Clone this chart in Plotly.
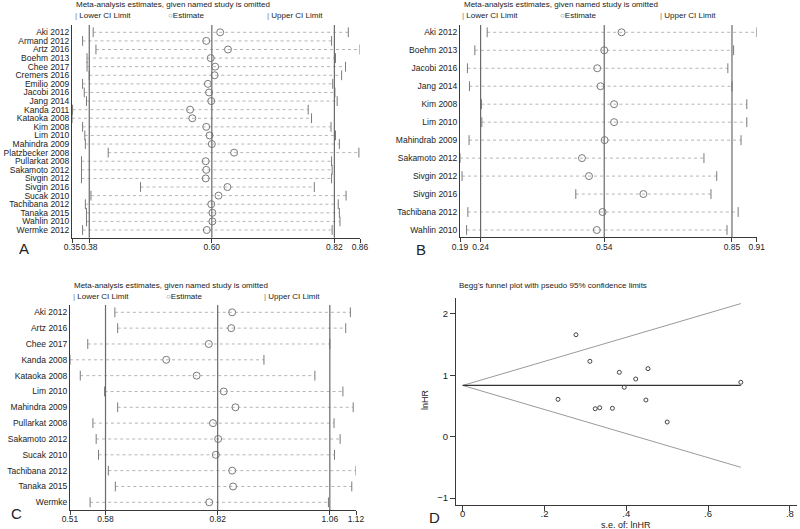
import plotly.graph_objects as go

W, H = 800, 529
FONT = "Liberation Sans, Arial, sans-serif"

# ---- panel A: sensitivity analysis (studies omitted one by one)
a_studies = ["Aki 2012", "Armand 2012", "Artz 2016", "Boehm 2013", "Chee 2017", "Cremers 2016",
             "Emilio 2009", "Jacobi 2016", "Jang 2014", "Kanda 2011", "Kataoka 2008", "Kim 2008",
             "Lim 2010", "Mahindra 2009", "Platzbecker 2008", "Pullarkat 2008", "Sakamoto 2012",
             "Sivgin 2012", "Sivgin 2016", "Sucak 2010", "Tachibana 2012", "Tanaka 2015",
             "Wahlin 2010", "Wermke 2012"]
a_est = [0.615, 0.590, 0.629, 0.598, 0.606, 0.605, 0.593, 0.595, 0.599, 0.561, 0.565, 0.590,
         0.596, 0.600, 0.640, 0.589, 0.590, 0.589, 0.628, 0.612, 0.599, 0.601, 0.601, 0.591]
a_lower = [0.387, 0.368, 0.392, 0.376, 0.376, 0.380, 0.368, 0.371, 0.375, 0.350, 0.349, 0.368,
           0.372, 0.373, 0.414, 0.366, 0.366, 0.366, 0.472, 0.383, 0.373, 0.375, 0.375, 0.368]
a_upper = [0.845, 0.815, 0.866, 0.822, 0.840, 0.833, 0.817, 0.821, 0.825, 0.773, 0.779, 0.814,
           0.822, 0.829, 0.864, 0.815, 0.816, 0.815, 0.784, 0.841, 0.827, 0.829, 0.830, 0.816]
a_overall = [0.38, 0.60, 0.82]
a_ticktext = ["0.35", "0.38", "0.60", "0.82", "0.86"]

# ---- panel B
b_studies = ["Aki 2012", "Boehm 2013", "Jacobi 2016", "Jang 2014", "Kim 2008", "Lim 2010",
             "Mahindrab 2009", "Sakamoto 2012", "Sivgin 2012", "Sivgin 2016", "Tachibana 2012",
             "Wahlin 2010"]
b_est = [0.582, 0.540, 0.523, 0.531, 0.564, 0.564, 0.541, 0.486, 0.503, 0.635, 0.536, 0.522]
b_lower = [0.256, 0.226, 0.208, 0.213, 0.242, 0.243, 0.212, 0.190, 0.195, 0.471, 0.209, 0.206]
b_upper = [0.910, 0.854, 0.840, 0.850, 0.886, 0.886, 0.872, 0.782, 0.813, 0.799, 0.865, 0.838]
b_overall = [0.24, 0.54, 0.85]
b_ticktext = ["0.19", "0.24", "0.54", "0.85", "0.91"]

# ---- panel C
c_studies = ["Aki 2012", "Artz 2016", "Chee 2017", "Kanda 2008", "Kataoka 2008", "Lim 2010",
             "Mahindra 2009", "Pullarkat 2008", "Sakamoto 2012", "Sucak 2010", "Tachibana 2012",
             "Tanaka 2015", "Wermke"]
c_est = [0.851, 0.849, 0.801, 0.710, 0.775, 0.833, 0.858, 0.810, 0.821, 0.816, 0.851, 0.853, 0.802]
c_lower = [0.600, 0.606, 0.542, 0.504, 0.526, 0.578, 0.606, 0.553, 0.560, 0.565, 0.586, 0.601, 0.547]
c_upper = [1.104, 1.094, 1.060, 0.919, 1.028, 1.088, 1.110, 1.069, 1.082, 1.070, 1.116, 1.107, 1.057]
c_overall = [0.58, 0.82, 1.06]
c_ticktext = ["0.51", "0.58", "0.82", "1.06", "1.12"]

# ---- panel D: Begg's funnel plot
d_se = [0.277, 0.311, 0.233, 0.324, 0.335, 0.383, 0.423, 0.453, 0.395, 0.680, 0.366, 0.448, 0.500]
d_lnhr = [1.661, 1.228, 0.609, 0.456, 0.472, 1.049, 0.940, 1.108, 0.805, 0.886, 0.463, 0.598, 0.239]
d_limit_se = [0.0, 0.68]
d_pooled = [0.835, 0.835]
d_upper_limit = [0.835, 2.168]
d_lower_limit = [0.835, -0.498]
d_xticks = [0, 0.2, 0.4, 0.6, 0.8]
d_xticktext = ["0", ".2", ".4", ".6", ".8"]
d_yticks = [-1, 0, 1, 2]

AXIS_COL = "#3a3a3a"
MARK_COL = "#7a7a7a"
REF_COL = "#6a6a6a"


def px_x(p):
    return p / W


def px_y(p):
    return 1 - p / H


fig = go.Figure()
annotations = []
shapes = []


def text(x, y, s, size=8, xanchor="left", **kw):
    annotations.append(dict(x=px_x(x), y=px_y(y), xref="paper", yref="paper", text=s,
                            showarrow=False, xanchor=xanchor, yanchor="middle",
                            font=dict(family=FONT, size=size, color="#222"), **kw))


def forest(k, studies, est, lower, upper, overall, ticktext, box, rows, title_y, legend_x, letter):
    x0, x1, ytop, ybot = box
    n = len(studies)
    step = (rows[1] - rows[0]) / (n - 1)
    yr = [(ybot - rows[0]) / step, (ytop - rows[0]) / step]
    xr = [min(lower), max(upper)]
    sfx = "" if k == 1 else str(k)
    xa, ya = "x" + sfx, "y" + sfx

    seg_x, seg_y = [], []
    for i in range(n):
        seg_x += [lower[i], upper[i], None]
        seg_y += [i, i, None]
    fig.add_trace(go.Scatter(x=seg_x, y=seg_y, xaxis=xa, yaxis=ya, mode="lines",
                             line=dict(color="#b5b5b5", width=1, dash="dot"), hoverinfo="skip"))
    for vals in (lower, upper):
        fig.add_trace(go.Scatter(x=vals, y=list(range(n)), xaxis=xa, yaxis=ya, mode="markers",
                                 marker=dict(symbol="line-ns", size=7,
                                             line=dict(color=MARK_COL, width=1))))
    fig.add_trace(go.Scatter(x=est, y=list(range(n)), xaxis=xa, yaxis=ya, mode="markers",
                             marker=dict(symbol="circle-open", size=7, color=MARK_COL,
                                         line=dict(width=1))))
    for v in overall:
        shapes.append(dict(type="line", xref=xa, yref=f"{ya} domain", x0=v, x1=v, y0=0, y1=1,
                           line=dict(color=REF_COL, width=1.2)))

    axis_common = dict(showline=True, linecolor=AXIS_COL, linewidth=1, showgrid=False,
                       zeroline=False, automargin=False,
                       tickfont=dict(family=FONT, size=8.5, color="#222"))
    fig.update_layout(**{
        "xaxis" + sfx: dict(domain=[px_x(x0), px_x(x1)], range=xr, anchor=ya,
                            tickmode="array", tickvals=[xr[0]] + overall + [xr[1]],
                            ticktext=ticktext, ticks="outside", ticklen=4, tickcolor=AXIS_COL,
                            tickangle=0, ticklabelstandoff=-3, **axis_common),
        "yaxis" + sfx: dict(domain=[px_y(ybot), px_y(ytop)], range=yr, anchor=xa,
                            tickmode="array", tickvals=list(range(n)), ticktext=studies,
                            ticks="", **axis_common),
    })

    text(x0 + 2, title_y, "Meta-analysis estimates, given named study is omitted")
    text(legend_x[0], title_y + 11, "<span style='color:#777'>|</span> Lower CI Limit")
    text(legend_x[1], title_y + 11, "<span style='color:#777'>○</span>Estimate")
    text(legend_x[2], title_y + 11, "<span style='color:#777'>|</span> Upper CI Limit")
    text(letter[1], letter[2], letter[0], size=15, xanchor="center")


forest(1, a_studies, a_est, a_lower, a_upper, a_overall, a_ticktext,
       (72, 360, 25, 237.7), (32.3, 230), 5, (73, 166, 265), ("A", 24, 248))
forest(2, b_studies, b_est, b_lower, b_upper, b_overall, b_ticktext,
       (460, 756.7, 25, 237.3), (32.3, 230), 5, (460, 558, 658), ("B", 421, 249))
forest(3, c_studies, c_est, c_lower, c_upper, c_overall, c_ticktext,
       (70, 356, 305, 510), (312.3, 502.3), 285, (71, 164, 262), ("C", 16, 513))

# funnel plot
fig.add_trace(go.Scatter(x=d_limit_se, y=d_upper_limit, xaxis="x4", yaxis="y4", mode="lines",
                         line=dict(color="#9a9a9a", width=1)))
fig.add_trace(go.Scatter(x=d_limit_se, y=d_lower_limit, xaxis="x4", yaxis="y4", mode="lines",
                         line=dict(color="#9a9a9a", width=1)))
fig.add_trace(go.Scatter(x=d_limit_se, y=d_pooled, xaxis="x4", yaxis="y4", mode="lines",
                         line=dict(color="#333", width=1.2)))
fig.add_trace(go.Scatter(x=d_se, y=d_lnhr, xaxis="x4", yaxis="y4", mode="markers",
                         marker=dict(symbol="circle-open", size=4, color="#444",
                                     line=dict(width=1))))
d_axis = dict(showline=True, linecolor=AXIS_COL, linewidth=1, showgrid=False, zeroline=False,
              ticks="outside", ticklen=5, tickcolor=AXIS_COL, automargin=False, tickangle=0,
              tickfont=dict(family=FONT, size=9.5, color="#222"))
fig.update_layout(
    xaxis4=dict(domain=[px_x(456), px_x(797)], range=[-0.0164, 0.8174], anchor="y4",
                tickmode="array", tickvals=d_xticks, ticktext=d_xticktext,
                ticklabelstandoff=-5, **d_axis),
    yaxis4=dict(domain=[px_y(505), px_y(297.7)], range=[-1.112, 2.264], anchor="x4",
                tickmode="array", tickvals=d_yticks, **d_axis),
)
text(457, 285, "Begg's funnel plot with pseudo 95% confidence limits")
text(626, 524.5, "s.e. of: lnHR", size=9, xanchor="center")
text(425, 400, "lnHR", size=9, xanchor="center", textangle=-90)
text(435, 517, "D", size=15, xanchor="center")

fig.update_layout(
    width=W, height=H, margin=dict(l=0, r=0, t=0, b=0),
    paper_bgcolor="white", plot_bgcolor="white", showlegend=False,
    annotations=annotations, shapes=shapes,
    font=dict(family=FONT, size=9, color="#222"),
)

fig.write_html("out.html", config={"displayModeBar": False},
               post_script="document.body.style.margin = '0px';")
